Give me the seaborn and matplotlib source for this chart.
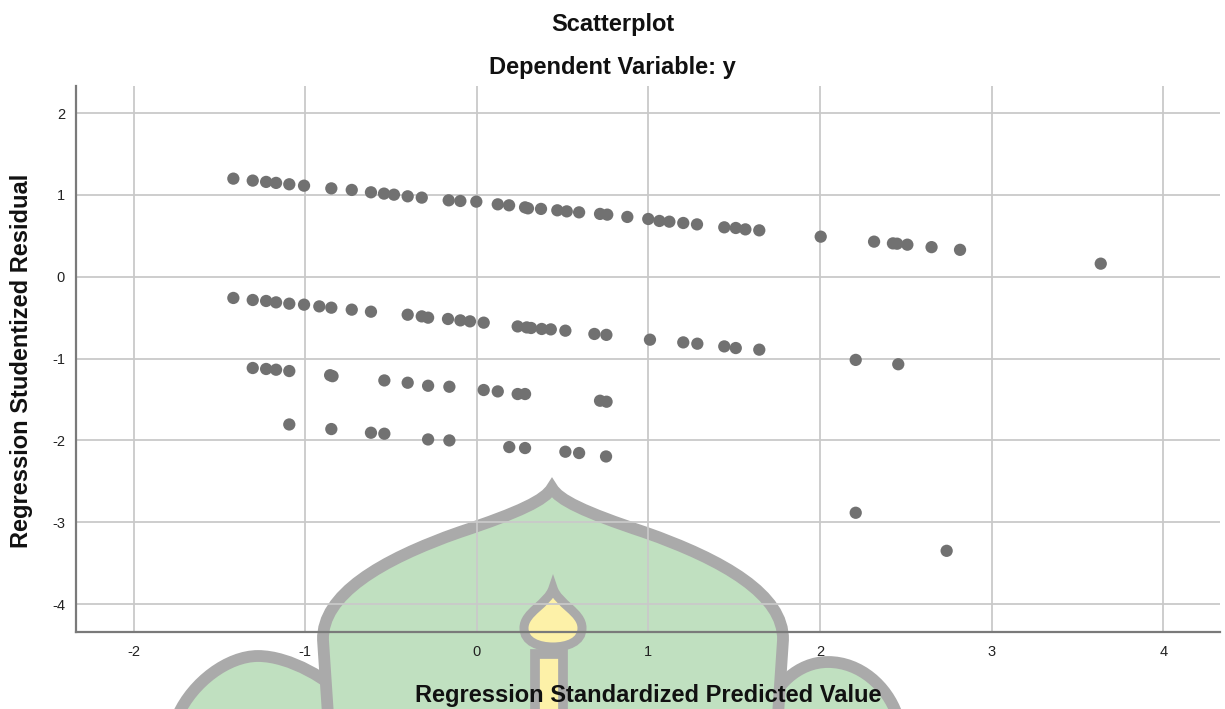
import numpy as np
import pandas as pd
import matplotlib
matplotlib.use("Agg")
import matplotlib.pyplot as plt
from matplotlib.path import Path
from matplotlib.patches import PathPatch, Rectangle
import seaborn as sns

# Standardized predicted values and studentized residuals, grouped in residual bands
pred_band1 = [-1.419, -1.306, -1.228, -1.170, -1.093, -1.007, -0.848, -0.729, -0.617, -0.541,
              -0.483, -0.403, -0.321, -0.164, -0.096, -0.003, 0.122, 0.188, 0.281, 0.298,
              0.374, 0.469, 0.524, 0.596, 0.718, 0.760, 0.877, 0.999, 1.064, 1.122,
              1.203, 1.283, 1.442, 1.509, 1.565, 1.646, 2.004, 2.315, 2.425, 2.449,
              2.509, 2.650, 2.816, 3.636]
resid_band1 = [1.198, 1.174, 1.158, 1.146, 1.129, 1.112, 1.079, 1.060, 1.031, 1.015,
               1.002, 0.982, 0.966, 0.933, 0.925, 0.917, 0.884, 0.872, 0.847, 0.835,
               0.828, 0.811, 0.798, 0.786, 0.767, 0.758, 0.730, 0.705, 0.681, 0.672,
               0.656, 0.639, 0.603, 0.595, 0.578, 0.566, 0.489, 0.428, 0.407, 0.403,
               0.391, 0.361, 0.328, 0.159]

pred_band2 = [-1.419, -1.306, -1.228, -1.170, -1.093, -1.007, -0.918, -0.848, -0.729, -0.617,
              -0.403, -0.321, -0.284, -0.168, -0.096, -0.040, 0.040, 0.238, 0.291, 0.316,
              0.378, 0.431, 0.516, 0.685, 0.755, 1.009, 1.203, 1.285, 1.442, 1.509,
              1.646, 2.208, 2.456]
resid_band2 = [-0.260, -0.285, -0.297, -0.314, -0.330, -0.342, -0.363, -0.379, -0.403, -0.428,
               -0.465, -0.485, -0.501, -0.517, -0.534, -0.546, -0.562, -0.608, -0.620, -0.627,
               -0.639, -0.644, -0.660, -0.700, -0.711, -0.770, -0.803, -0.819, -0.852, -0.872,
               -0.892, -1.017, -1.070]

pred_band3 = [-1.306, -1.228, -1.170, -1.093, -0.855, -0.841, -0.539, -0.403, -0.284, -0.160,
              0.040, 0.122, 0.238, 0.281, 0.718, 0.756]
resid_band3 = [-1.116, -1.128, -1.137, -1.153, -1.204, -1.216, -1.268, -1.296, -1.333, -1.345,
               -1.385, -1.402, -1.434, -1.434, -1.516, -1.528]

pred_band4 = [-1.093, -0.848, -0.617, -0.539, -0.284, -0.160, 0.189, 0.281, 0.516, 0.596,
              0.753, 2.208, 2.738]
resid_band4 = [-1.806, -1.862, -1.907, -1.919, -1.989, -2.001, -2.082, -2.094, -2.139, -2.155,
               -2.197, -2.885, -3.350]

x_ticks = [-2, -1, 0, 1, 2, 3, 4]
y_ticks = [2, 1, 0, -1, -2, -3, -4]

df = pd.DataFrame({
    "pred": pred_band1 + pred_band2 + pred_band3 + pred_band4,
    "resid": resid_band1 + resid_band2 + resid_band3 + resid_band4,
})

sns.set_theme(style="white")
plt.rcParams["font.family"] = ["Liberation Sans", "DejaVu Sans"]

W, H = 1225, 709
fig = plt.figure(figsize=(W / 100, H / 100), dpi=100)
fig.patch.set_facecolor("white")

# Background emblem drawn in pixel space beneath the plot
bg = fig.add_axes([0, 0, 1, 1], zorder=0)
bg.set_xlim(0, W)
bg.set_ylim(H, 0)
bg.axis("off")

green = "#c0e0c0"
outline = "#aaaaaa"
yellow = "#fdf1a8"
lw = 8.5

def cubic_path(start, segments, closed=True):
    verts = [start]
    codes = [Path.MOVETO]
    for seg in segments:
        if len(seg) == 1:
            verts.append(seg[0]); codes.append(Path.LINETO)
        else:
            verts.extend(seg); codes.extend([Path.CURVE4] * 3)
    if closed:
        verts.append(start); codes.append(Path.CLOSEPOLY)
    return Path(verts, codes)

left_dome = cubic_path((178, 715), [
    [(193, 682), (228, 656), (258, 656)],
    [(290, 656), (330, 680), (348, 700)],
    [(348, 715)],
])
right_dome = cubic_path((766, 715), [
    [(773, 686), (798, 662), (828, 662)],
    [(860, 662), (887, 686), (897, 715)],
])
for p in (left_dome, right_dome):
    bg.add_patch(PathPatch(p, facecolor=green, edgecolor=outline, lw=lw))

main_dome = cubic_path((328, 715), [
    [(323, 640)],
    [(322, 595), (380, 560), (460, 532)],
    [(520, 512), (545, 500), (552, 488)],
    [(559, 500), (584, 512), (644, 532)],
    [(724, 560), (784, 595), (783, 640)],
    [(778, 715)],
])
bg.add_patch(PathPatch(main_dome, facecolor=green, edgecolor=outline, lw=lw))

bg.add_patch(Rectangle((535, 654), 28, 70, facecolor=yellow, edgecolor=outline, lw=7))
flame = cubic_path((553, 588), [
    [(558, 604), (582, 612), (582, 628)],
    [(582, 642), (567, 647), (553, 647)],
    [(539, 647), (524, 642), (524, 628)],
    [(524, 612), (548, 604), (553, 588)],
])
bg.add_patch(PathPatch(flame, facecolor=yellow, edgecolor=outline, lw=6.5, joinstyle="miter"))

# Main scatter axes
left_px, right_px, top_px, bottom_px = 76, 1220, 86, 632
ax = fig.add_axes([left_px / W, 1 - bottom_px / H,
                   (right_px - left_px) / W, (bottom_px - top_px) / H], zorder=1)
ax.patch.set_alpha(0)

sns.scatterplot(data=df, x="pred", y="resid", ax=ax, color="#717171",
                s=78, edgecolor="none", linewidth=0, zorder=3)

ax.set_xlim(-2.336, 4.331)
ax.set_ylim(-4.342, 2.33)
ax.set_xticks(x_ticks)
ax.set_yticks(y_ticks)
ax.set_xticklabels([str(v) for v in x_ticks])
ax.set_yticklabels([str(v) for v in y_ticks])
ax.tick_params(axis="both", length=0, labelsize=10.5, labelcolor="#222222")
ax.tick_params(axis="x", pad=9)
ax.tick_params(axis="y", pad=8)
ax.grid(True, color="#c9c9c9", linewidth=1.3, zorder=1)
ax.set_axisbelow(True)
for side in ("top", "right"):
    ax.spines[side].set_visible(False)
for side in ("left", "bottom"):
    ax.spines[side].set_color("#7a7a7a")
    ax.spines[side].set_linewidth(1.6)
ax.set_xlabel("")
ax.set_ylabel("")

# Titles and axis titles
title_kw = dict(fontsize=17, fontweight="bold", color="#111111")
fig.text(0.5, 1 - 31.5 / H, "Scatterplot", ha="center", va="baseline", **title_kw)
fig.text(0.5, 1 - 74 / H, "Dependent Variable: y", ha="center", va="baseline", **title_kw)
fig.text(22 / W, 1 - 361 / H, "Regression Studentized Residual", ha="center", va="center",
         rotation=90, **title_kw)
fig.text(648 / W, 1 - 702 / H, "Regression Standardized Predicted Value", ha="center",
         va="baseline", **title_kw)

fig.savefig("out.png", dpi=100)
